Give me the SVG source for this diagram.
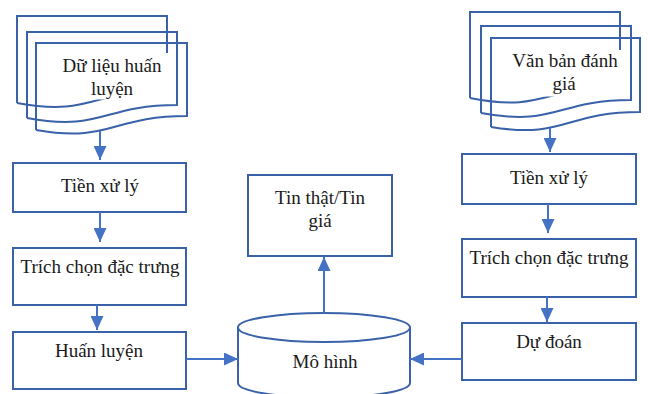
<svg xmlns="http://www.w3.org/2000/svg" width="648" height="394" viewBox="0 0 648 394">
  <style>
    .box { fill: #ffffff; stroke: #3A62A8; stroke-width: 2; }
    .page { fill: none; stroke: #3A62A8; stroke-width: 2; }
    .tbg { fill: #ffffff; stroke: none; }
    .lbl { font-family: "Liberation Serif", "Times New Roman", serif; font-size: 19px; fill: #1a1a1a; text-anchor: middle; }
    .conn { fill: none; stroke: #4472C4; stroke-width: 2; marker-end: url(#arrow); }
  </style>
  <defs>
    <marker id="arrow" markerUnits="userSpaceOnUse" markerWidth="14" markerHeight="13" refX="14" refY="6.5" orient="auto">
      <path d="M0,0 L14,6.5 L0,13 z" fill="#4472C4"/>
    </marker>
  </defs>
  <rect width="648" height="394" fill="#ffffff"/>

  <!-- training data: stacked documents -->
  <g id="du-lieu-huan-luyen">
    <path class="page" d="M17,103 L17,16 L167,16 L167,90 C92,90 92,117 17,103"/>
    <path class="page" d="M27,118 L27,32 L177,32 L177,105 C102,105 102,132 27,118"/>
    <path class="page" d="M36,130 L36,43 L187,43 L187,116 C111,116 111,143 36,130"/>
    <rect class="tbg" x="50" y="53" width="120" height="46.5"/>
    <text class="lbl" x="112" y="72">Dữ liệu huấn</text>
    <text class="lbl" x="112" y="95">luyện</text>
  </g>

  <!-- documents to evaluate: stacked documents -->
  <g id="van-ban-danh-gia">
    <path class="page" d="M470,98 L470,12 L620,12 L620,86 C545,86 545,113 470,98"/>
    <path class="page" d="M481,113 L481,26 L631,26 L631,100 C556,100 556,127 481,113"/>
    <path class="page" d="M491,127 L491,38 L640,38 L640,112 C565,112 565,139 491,127"/>
    <rect class="tbg" x="505" y="50" width="118" height="46.5"/>
    <text class="lbl" x="565" y="67">Văn bản đánh</text>
    <text class="lbl" x="564" y="90">giá</text>
  </g>

  <g id="tien-xu-ly-trai">
    <rect class="box" x="13" y="163" width="173" height="49"/>
    <text class="lbl" x="100" y="192">Tiền xử lý</text>
  </g>
  <g id="trich-chon-trai">
    <rect class="box" x="13" y="248" width="173" height="57"/>
    <text class="lbl" x="100" y="273">Trích chọn đặc trưng</text>
  </g>
  <g id="huan-luyen">
    <rect class="box" x="13" y="332" width="173" height="57"/>
    <text class="lbl" x="99" y="357">Huấn luyện</text>
  </g>

  <g id="tien-xu-ly-phai">
    <rect class="box" x="462" y="154" width="174" height="50"/>
    <text class="lbl" x="549" y="184">Tiền xử lý</text>
  </g>
  <g id="trich-chon-phai">
    <rect class="box" x="462" y="239" width="174" height="58"/>
    <text class="lbl" x="549" y="264">Trích chọn đặc trưng</text>
  </g>
  <g id="du-doan">
    <rect class="box" x="462" y="323" width="174" height="57"/>
    <text class="lbl" x="549" y="348">Dự đoán</text>
  </g>

  <g id="ket-qua">
    <rect class="box" x="248" y="175" width="144" height="81"/>
    <text class="lbl" x="320" y="204">Tin thật/Tin</text>
    <text class="lbl" x="320" y="227">giá</text>
  </g>

  <!-- model: cylinder -->
  <g id="mo-hinh">
    <path class="box" d="M238,327.5 L238,383 A86,14.5 0 0 0 410,383 L410,327.5"/>
    <ellipse class="box" cx="324" cy="327.5" rx="86" ry="14.5"/>
    <text class="lbl" x="325" y="368">Mô hình</text>
  </g>

  <g id="connectors">
    <path class="conn" d="M100,131 L100,160"/>
    <path class="conn" d="M100,212 L100,242"/>
    <path class="conn" d="M97,305 L97,330"/>
    <path class="conn" d="M550,128 L550,152"/>
    <path class="conn" d="M548,204 L548,233"/>
    <path class="conn" d="M547,297 L547,322"/>
    <path class="conn" d="M324,313 L324,257"/>
    <path class="conn" d="M186,359 L238,359"/>
    <path class="conn" d="M462,359 L410,359"/>
  </g>
</svg>
